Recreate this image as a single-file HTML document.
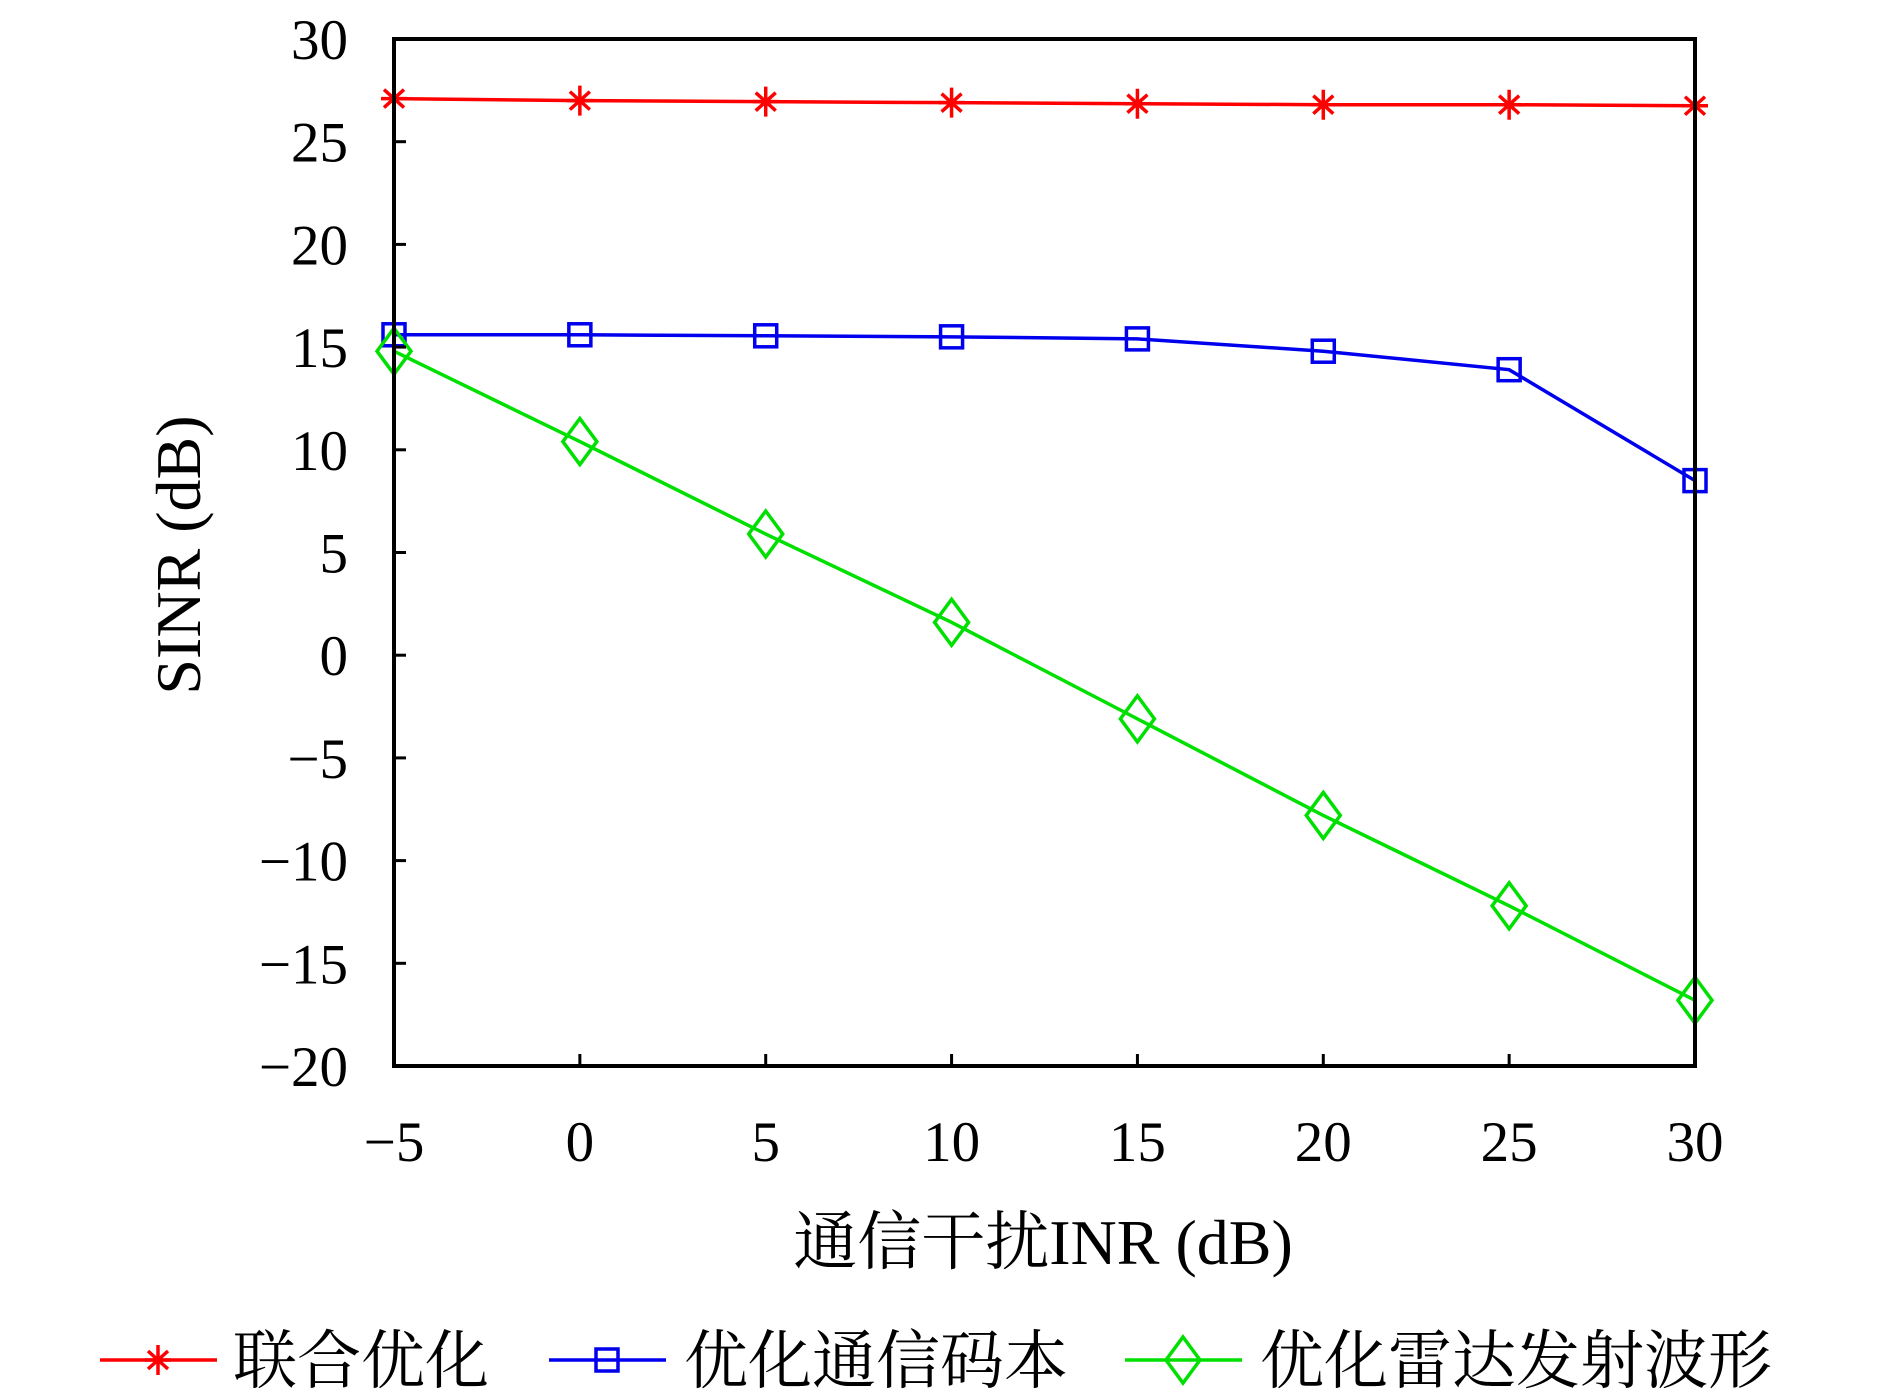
<!DOCTYPE html>
<html><head><meta charset="utf-8"><style>
html,body{margin:0;padding:0;background:#fff;}
svg{display:block;}
text{font-family:"Liberation Serif","Noto Serif CJK SC",serif;fill:#000;}
</style></head><body>
<svg id="chart" width="1890" height="1393" viewBox="0 0 1890 1393" xmlns="http://www.w3.org/2000/svg">
<g id="grid"></g>
<g id="series"></g>
<rect x="394" y="39" width="1301" height="1027" fill="none" stroke="#000" stroke-width="4"/>
<g id="axes"></g>
<text x="1043" y="1264" font-size="64" text-anchor="middle">通信干扰INR (dB)</text>
<text transform="translate(200,555) rotate(-90)" font-size="64" text-anchor="middle">SINR (dB)</text>
<g id="legend"></g>
</svg>
<script>
const categories=[-5,0,5,10,15,20,25,30];
const jointOpt=[27.1,27.0,26.95,26.9,26.85,26.8,26.8,26.75];
const commOpt=[15.6,15.6,15.55,15.5,15.4,14.8,13.9,8.5];
const radarOpt=[14.8,10.4,5.9,1.6,-3.1,-7.8,-12.2,-16.8];
const yTicks=[-20,-15,-10,-5,0,5,10,15,20,25,30];
const xTicks=[-5,0,5,10,15,20,25,30];
const seriesNames=["联合优化","优化通信码本","优化雷达发射波形"];

const NS="http://www.w3.org/2000/svg";
const L=394,R=1695,T=39,B=1066;
const xs=v=>L+(v-(-5))/(35)*(R-L);
const ys=v=>B-(v-(-20))/50*(B-T);
function mk(tag,attrs,parent){const e=document.createElementNS(NS,tag);for(const k in attrs)e.setAttribute(k,attrs[k]);parent.appendChild(e);return e;}
const fmt=v=>v<0?"\u2212"+Math.abs(v):String(v);
const axes=document.getElementById('axes');
yTicks.forEach(v=>{
  const y=ys(v);
  const t=mk('line',{x1:L,x2:L+12,y1:y,y2:y,stroke:'#000','stroke-width':3},axes);
  
  
  const lb=mk('text',{x:348,y:y+20,'font-size':57,'text-anchor':'end'},axes);
  lb.textContent=fmt(v);
  
  
});
xTicks.forEach(v=>{
  const x=xs(v);
  const t=mk('line',{x1:x,x2:x,y1:B,y2:B-12,stroke:'#000','stroke-width':3},axes);
  
  
  const lb=mk('text',{x:x,y:1161,'font-size':57,'text-anchor':'middle'},axes);
  lb.textContent=fmt(v);
  
  
});
function marker(type,x,y,color,g){
  if(type==='star'){
    return mk('path',{d:`M${x-13} ${y}H${x+13}M${x} ${y-15}V${y+15}M${x-10} ${y-9}L${x+10} ${y+9}M${x-10} ${y+9}L${x+10} ${y-9}`,stroke:color,'stroke-width':3.5,fill:'none'},g);
  }
  if(type==='square') return mk('rect',{x:x-11,y:y-11,width:22,height:22,fill:'none',stroke:color,'stroke-width':3.5},g);
  return mk('path',{d:`M${x} ${y-23}L${x+17} ${y}L${x} ${y+23}L${x-17} ${y}Z`,fill:'none',stroke:color,'stroke-width':3.5},g);
}
const sg=document.getElementById('series');
const defs=[[jointOpt,'#ff0000','star','series-joint'],[commOpt,'#0000ee','square','series-comm'],[radarOpt,'#00e000','diamond','series-radar']];
defs.forEach(([vals,color,type,name])=>{
  const g=mk('g',{},sg);
  
  
  const pl=mk('polyline',{points:vals.map((v,i)=>xs(categories[i])+','+ys(v)).join(' '),fill:'none',stroke:color,'stroke-width':3.5},g);
  
  
  vals.forEach((v,i)=>{
    const m=marker(type,xs(categories[i]),ys(v),color,g);
    
    
  });
});
const lg=document.getElementById('legend');
const legPos=[[100,233],[549,684],[1125,1260]];
defs.forEach(([vals,color,type,name],i)=>{
  const g=mk('g',{},lg);
  
  
  const [lx,tx]=legPos[i];
  const y=1360;
  mk('line',{x1:lx,x2:lx+117,y1:y,y2:y,stroke:color,'stroke-width':3.5},g);
  marker(type,lx+58,y,color,g);
  const t=mk('text',{x:tx,y:y+23,'font-size':64},g);
  t.textContent=seriesNames[i];
  
  
});
</script>
</body></html>
